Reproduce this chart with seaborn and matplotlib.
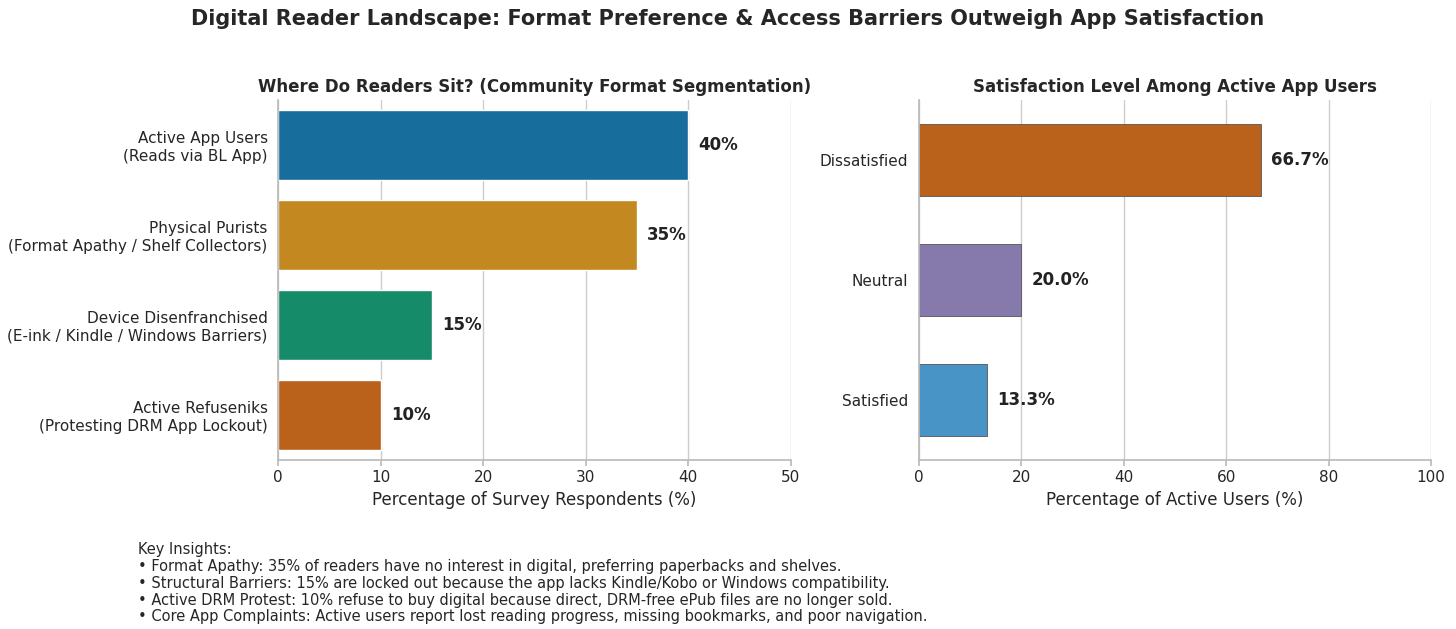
import matplotlib
matplotlib.use('Agg')
import matplotlib.pyplot as plt
import seaborn as sns
import pandas as pd

# data
segments = ['Active App Users\n(Reads via BL App)',
            'Physical Purists\n(Format Apathy / Shelf Collectors)',
            'Device Disenfranchised\n(E-ink / Kindle / Windows Barriers)',
            'Active Refuseniks\n(Protesting DRM App Lockout)']
segment_pct = [40, 35, 15, 10]
satisfaction = ['Dissatisfied', 'Neutral', 'Satisfied']
satisfaction_pct = [66.7, 20.0, 13.3]

sns.set_theme(style='whitegrid')
plt.rcParams['font.family'] = ['DejaVu Sans']

fig = plt.figure(figsize=(14.56, 6.29), dpi=100)
ax1 = fig.add_axes([0.191, 0.269, 0.352, 0.572])
ax2 = fig.add_axes([0.631, 0.269, 0.352, 0.572])

# left panel
df1 = pd.DataFrame({'seg': segments, 'pct': segment_pct})
sns.barplot(data=df1, x='pct', y='seg', hue='seg', ax=ax1, legend=False, width=0.78,
            palette=['#0173B2', '#DE8F05', '#029E73', '#D55E00'])
for i, v in enumerate(segment_pct):
    ax1.text(v + 1, i, f'{v}%', va='center', fontsize=12, fontweight='bold', color='#222222')
ax1.set_xlim(0, 50)
ax1.set_xlabel('Percentage of Survey Respondents (%)', fontsize=12)
ax1.set_ylabel('')
ax1.set_title('Where Do Readers Sit? (Community Format Segmentation)', fontsize=12, fontweight='bold')

# right panel
df2 = pd.DataFrame({'sat': satisfaction, 'pct': satisfaction_pct})
sns.barplot(data=df2, x='pct', y='sat', hue='sat', ax=ax2, legend=False, width=0.6,
            palette=['#D55E00', '#8172B3', '#3498DB'], edgecolor='#555555', linewidth=0.6)
for i, v in enumerate(satisfaction_pct):
    ax2.text(v + 2, i, f'{v:.1f}%', va='center', fontsize=12, fontweight='bold', color='#222222')
ax2.set_xlim(0, 100)
ax2.set_xlabel('Percentage of Active Users (%)', fontsize=12)
ax2.set_ylabel('')
ax2.set_title('Satisfaction Level Among Active App Users', fontsize=12, fontweight='bold')

for ax in (ax1, ax2):
    ax.grid(axis='y', visible=False)
    ax.grid(axis='x', color='#cccccc')
    sns.despine(ax=ax)
    for s in ('left', 'bottom'):
        ax.spines[s].set_color('#bbbbbb')
    ax.tick_params(axis='both', labelsize=11, length=4, color='#bbbbbb', left=False, bottom=True)

fig.suptitle('Digital Reader Landscape: Format Preference & Access Barriers Outweigh App Satisfaction',
             fontsize=15, fontweight='bold', y=0.985)

notes = ('Key Insights:\n'
         '• Format Apathy: 35% of readers have no interest in digital, preferring paperbacks and shelves.\n'
         '• Structural Barriers: 15% are locked out because the app lacks Kindle/Kobo or Windows compatibility.\n'
         '• Active DRM Protest: 10% refuse to buy digital because direct, DRM-free ePub files are no longer sold.\n'
         '• Core App Complaints: Active users report lost reading progress, missing bookmarks, and poor navigation.')
fig.text(0.095, 0.138, notes, fontsize=10.5, va='top', ha='left', linespacing=1.15)

fig.savefig('out.png', dpi=100)
